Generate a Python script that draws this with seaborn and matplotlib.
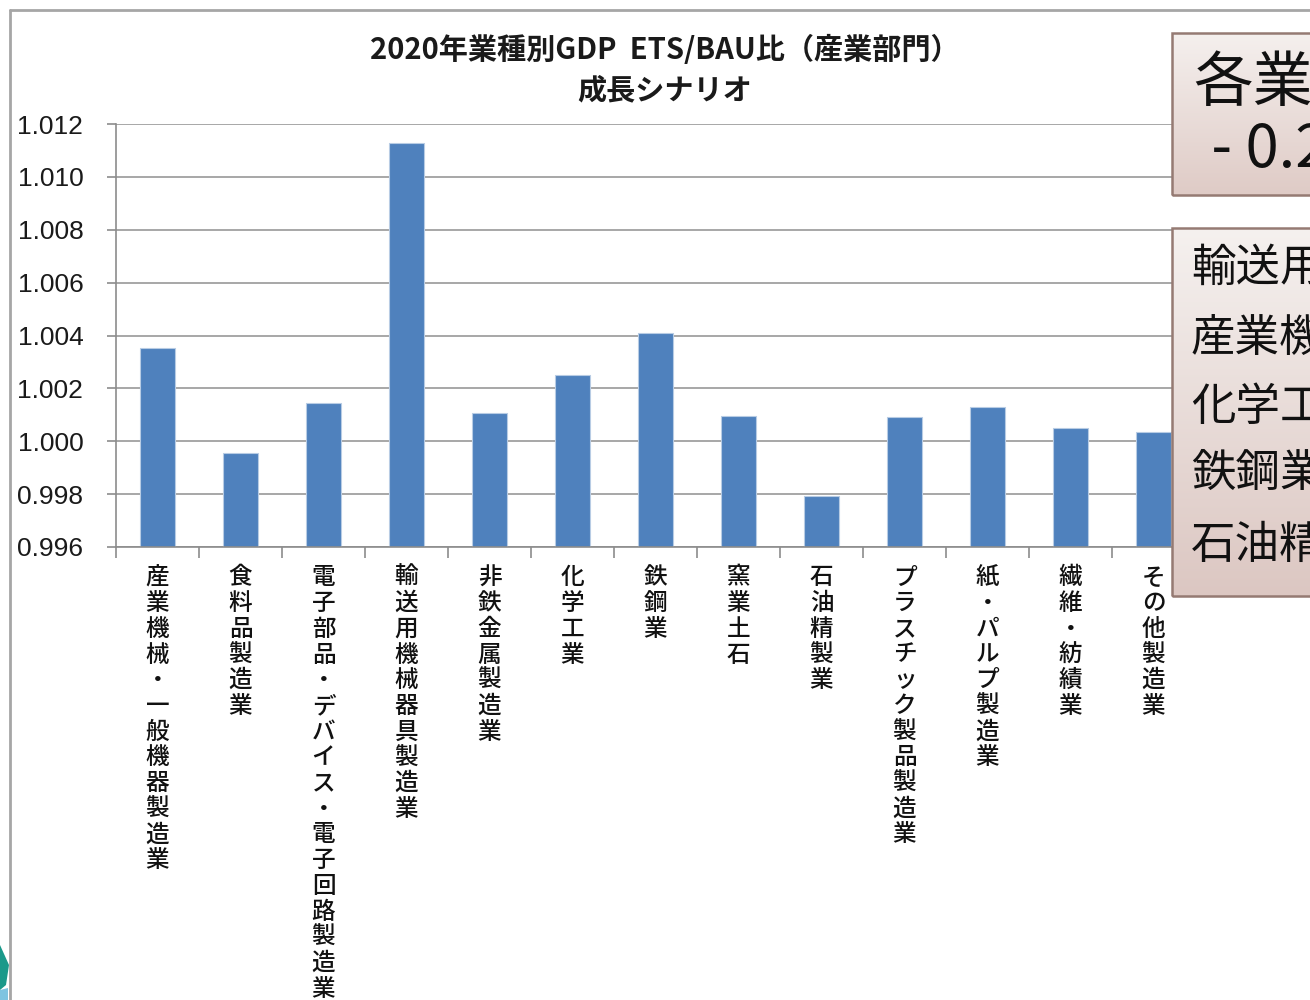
import matplotlib
matplotlib.use("Agg")
import matplotlib.pyplot as plt
import matplotlib.ticker as mticker
from matplotlib.lines import Line2D
from matplotlib.patches import Rectangle, Polygon
import numpy as np
import pandas as pd
import seaborn as sns

# ---- data -------------------------------------------------------------
categories = [
    "産業機械・一般機器製造業",
    "食料品製造業",
    "電子部品・デバイス・電子回路製造業",
    "輸送用機械器具製造業",
    "非鉄金属製造業",
    "化学工業",
    "鉄鋼業",
    "窯業土石",
    "石油精製業",
    "プラスチック製品製造業",
    "紙・パルプ製造業",
    "繊維・紡績業",
    "その他製造業",
]
ratios = [1.00354, 0.99957, 1.00146, 1.01127, 1.00105, 1.00250, 1.00410,
          1.00095, 0.99792, 1.00092, 1.00128, 1.00051, 1.00035]
y_ticks = [0.996, 0.998, 1.000, 1.002, 1.004, 1.006, 1.008, 1.010, 1.012]
title_lines = ["2020年業種別GDP  ETS/BAU比（産業部門）", "成長シナリオ"]
summary_lines = ["各業", " - 0.2"]
sector_lines = ["輸送用", "産業機", "化学工", "鉄鋼業", "石油精"]

df = pd.DataFrame({"業種": categories, "比": ratios})

# ---- style ------------------------------------------------------------
sns.set_theme(style="white")
plt.rcParams["font.family"] = ["Noto Sans CJK JP", "DejaVu Sans"]

W, H = 1310, 1000
fig = plt.figure(figsize=(W / 100, H / 100), dpi=100)
fig.patch.set_facecolor("white")


def fx(px):
    return px / W


def fy(py):
    return 1 - py / H


# chart frame (top and left borders)
fig.add_artist(Line2D([fx(10), fx(10)], [fy(10), fy(1000)], color="#a6a6a6", lw=2))
fig.add_artist(Line2D([fx(10), fx(1310)], [fy(10), fy(10)], color="#a6a6a6", lw=2))

ax = fig.add_axes([fx(116), fy(547), fx(1195) - fx(116), fy(124) - fy(547)])
sns.barplot(data=df, x="業種", y="比", color="#4f81bd", width=0.41,
            edgecolor="#b8cce4", linewidth=0.8, saturation=1, ax=ax)

ax.set_ylim(y_ticks[0], y_ticks[-1])
ax.set_xlim(-0.5, len(categories) - 0.5)
ax.set_yticks(y_ticks)
ax.yaxis.set_major_formatter(mticker.FormatStrFormatter("%.3f"))
ax.set_xlabel("")
ax.set_ylabel("")
ax.set_axisbelow(True)
ax.yaxis.grid(True, color="#a0a0a0", lw=1.3)
ax.xaxis.grid(False)

for s in ["top", "right"]:
    ax.spines[s].set_visible(False)
for s in ["left", "bottom"]:
    ax.spines[s].set_color("#8c8c8c")
    ax.spines[s].set_linewidth(1.2)

ax.tick_params(axis="y", length=6.5, width=1.2, color="#8c8c8c", pad=17,
               labelsize=19, left=True)
for lab in ax.get_yticklabels():
    lab.set_family(["Liberation Sans", "DejaVu Sans"])
    lab.set_color("#1a1a1a")

# vertical (stacked) category labels
ax.set_xticks(range(len(categories)))
ax.set_xticklabels(["\n".join(c) for c in categories], fontsize=17,
                   fontweight="medium", va="top", linespacing=1.15,
                   color="#111111")
ax.tick_params(axis="x", which="major", length=0, pad=14)
ax.set_xticks(np.arange(-0.5, len(categories)), minor=True)
ax.tick_params(axis="x", which="minor", length=8, width=1.2, color="#8c8c8c",
               bottom=True)

# title
fig.text(fx(665), fy(50), title_lines[0], ha="center", va="center",
         fontsize=21, fontweight="bold", color="#1a1a1a")
fig.text(fx(665), fy(90), title_lines[1], ha="center", va="center",
         fontsize=21, fontweight="bold", color="#1a1a1a")


# side callout boxes with a soft vertical gradient
def callout(top, bottom, c_top, c_bot):
    bax = fig.add_axes([fx(1172), fy(bottom), fx(1330) - fx(1172), fy(top) - fy(bottom)])
    grad = np.linspace(0, 1, 256)[:, None]
    top_rgb = np.array(matplotlib.colors.to_rgb(c_top))
    bot_rgb = np.array(matplotlib.colors.to_rgb(c_bot))
    img = top_rgb[None, None, :] * (1 - grad[..., None]) + bot_rgb[None, None, :] * grad[..., None]
    bax.imshow(img, aspect="auto", extent=[0, 1, 0, 1])
    bax.set_axis_off()
    bax.add_patch(Rectangle((0, 0), 1, 1, transform=bax.transAxes, fill=False,
                            edgecolor="#957a73", lw=1.8, clip_on=False))
    return bax


callout(33, 195, "#f5f0ee", "#dfcbc6")
callout(228, 596, "#f5f1ef", "#dcc7c2")

fig.text(fx(1193), fy(84), summary_lines[0], ha="left", va="center",
         fontsize=43, color="#111111")
fig.text(fx(1198), fy(150), summary_lines[1], ha="left", va="center",
         fontsize=43, color="#111111")

for yc, line in zip([268, 338, 407, 473, 545], sector_lines):
    fig.text(fx(1191), fy(yc), line, ha="left", va="center",
             fontsize=32, color="#111111")

# corner logo fragment
fig.add_artist(Polygon([[fx(0), fy(945)], [fx(9), fy(965)], [fx(6), fy(985)],
                        [fx(0), fy(990)]], closed=True, facecolor="#1a998a",
                       edgecolor="none"))
fig.add_artist(Polygon([[fx(0), fy(990)], [fx(8), fy(988)], [fx(8), fy(1000)],
                        [fx(0), fy(1000)]], closed=True, facecolor="#7fc4e0",
                       edgecolor="none"))

fig.savefig("out.png", dpi=100)
